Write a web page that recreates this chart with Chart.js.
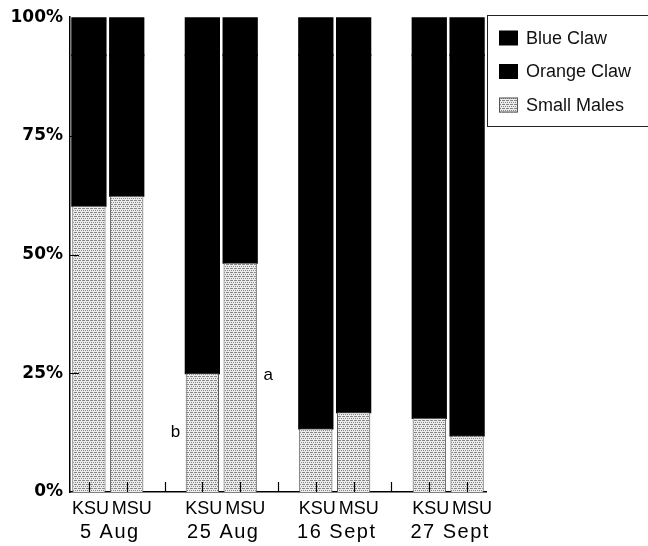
<!DOCTYPE html>
<html>
<head>
<meta charset="utf-8">
<script src="https://cdn.jsdelivr.net/npm/chart.js@4.4.1/dist/chart.umd.min.js"></script>
<style>
  html, body { margin: 0; padding: 0; background: #fff; }
  #wrap { width: 648px; height: 546px; }
</style>
</head>
<body>
<div id="wrap"><canvas id="chart" width="648" height="546"></canvas></div>
<script>
// Bar slots: one per site, with empty slots separating the sampling dates
const categories = ['KSU', 'MSU', '', 'KSU', 'MSU', '', 'KSU', 'MSU', '', 'KSU', 'MSU'];
const dateLabels = ['5 Aug', '25 Aug', '16 Sept', '27 Sept'];
const datePairs = [[0, 1], [3, 4], [6, 7], [9, 10]];

// Percent of males in each class
const smallMales = [60.3, 62.4, null, 25.0, 48.3, null, 13.4, 16.8, null, 15.6, 11.9];
const orangeClaw = [31.7, 29.6, null, 67.0, 43.7, null, 78.6, 75.2, null, 76.4, 80.1];
const blueClaw   = [8.0, 8.0, null, 8.0, 8.0, null, 8.0, 8.0, null, 8.0, 8.0];

const yTicks = [0, 25, 50, 75, 100];

// Significance letters beside the 25 Aug bars
const noteText  = ['b', 'a'];
const noteSlot  = [3, 4];
const noteValue = [12.5, 24.5];

function stipple() {
  const c = document.createElement('canvas');
  c.width = 4; c.height = 4;
  const g = c.getContext('2d');
  g.fillStyle = '#ececec';
  g.fillRect(0, 0, 4, 4);
  g.fillStyle = '#858585';
  [[0, 0], [2, 0], [1, 2], [3, 2], [3, 0]].forEach(([x, y]) => g.fillRect(x, y, 1, 1));
  return g.createPattern(c, 'repeat');
}
const dotted = stipple();

const FONT = '"Liberation Sans", Arial, sans-serif';

const extras = {
  id: 'extras',
  afterDraw(chart) {
    const ctx = chart.ctx;
    const x = chart.scales.x, y = chart.scales.y;
    const area = chart.chartArea;
    ctx.save();

    // inward tick marks on both axes
    ctx.strokeStyle = '#000';
    ctx.lineWidth = 1.2;
    ctx.beginPath();
    categories.forEach((_, i) => {
      const px = Math.round(x.getPixelForValue(i)) + 0.5;
      ctx.moveTo(px, area.bottom);
      ctx.lineTo(px, area.bottom - 10);
    });
    yTicks.forEach(v => {
      if (v === 0 || v === 100) return;
      const py = Math.round(y.getPixelForValue(v)) + 0.5;
      ctx.moveTo(area.left, py);
      ctx.lineTo(area.left + 9, py);
    });
    ctx.stroke();

    ctx.fillStyle = '#000';
    ctx.textAlign = 'center';
    ctx.textBaseline = 'middle';

    // site names under each bar
    ctx.font = '18px ' + FONT;
    categories.forEach((name, i) => {
      if (!name) return;
      const shift = name === 'KSU' ? 1.5 : 5;
      ctx.fillText(name, x.getPixelForValue(i) + shift, area.bottom + 17);
    });

    // sampling dates under each pair of bars
    ctx.font = '20px ' + FONT;
    ctx.letterSpacing = '1.5px';
    datePairs.forEach(([a, b], i) => {
      const cx = (x.getPixelForValue(a) + x.getPixelForValue(b)) / 2;
      ctx.fillText(dateLabels[i], cx + 2, area.bottom + 40);
    });
    ctx.letterSpacing = '0px';

    // significance letters
    ctx.font = '17px ' + FONT;
    noteText.forEach((t, i) => {
      const dx = noteSlot[i] === 3 ? -27 : 28;
      ctx.fillText(t, x.getPixelForValue(noteSlot[i]) + dx, y.getPixelForValue(noteValue[i]));
    });

    // legend with frame
    const lx = 487.5, ly = 15.5;
    ctx.strokeStyle = '#222';
    ctx.lineWidth = 1;
    ctx.strokeRect(lx, ly, 220, 111);
    const sets = chart.data.datasets.slice().reverse();
    ctx.font = '18px ' + FONT;
    ctx.textAlign = 'left';
    sets.forEach((ds, i) => {
      const cy = 38 + i * 33.5;
      ctx.fillStyle = ds.backgroundColor;
      ctx.fillRect(499, cy - 7.5, 19, 15);
      if (ds.borderWidth) {
        ctx.strokeStyle = ds.borderColor;
        ctx.strokeRect(499.5, cy - 7, 18, 14);
      }
      ctx.fillStyle = '#111';
      ctx.fillText(ds.label, 526, cy + 1);
    });
    ctx.restore();
  }
};

new Chart(document.getElementById('chart'), {
  type: 'bar',
  data: {
    labels: categories,
    datasets: [
      { label: 'Small Males', data: smallMales, backgroundColor: dotted, borderColor: '#555', borderWidth: 1 },
      { label: 'Orange Claw', data: orangeClaw, backgroundColor: '#000', borderWidth: 0, inflateAmount: 1 },
      { label: 'Blue Claw',   data: blueClaw,   backgroundColor: '#000', borderWidth: 0, inflateAmount: 1 }
    ]
  },
  options: {
    responsive: false,
    animation: false,
    layout: { padding: { left: 0, right: 162, top: 13, bottom: 0 } },
    datasets: { bar: { barPercentage: 0.88, categoryPercentage: 1.0 } },
    plugins: { legend: { display: false }, tooltip: { enabled: false } },
    scales: {
      x: {
        stacked: true,
        grid: { display: false, drawTicks: false },
        border: { display: true, color: '#000', width: 1.5 },
        ticks: { display: false },
        afterFit(s) { s.height = 54; }
      },
      y: {
        stacked: true, min: 0, max: 100,
        afterBuildTicks(s) { s.ticks = yTicks.map(v => ({ value: v })); },
        grid: { display: false, drawTicks: false },
        border: { display: true, color: '#000', width: 1.5 },
        ticks: {
          padding: 7, color: '#000',
          font: { family: '"DejaVu Sans", sans-serif', size: 17, weight: 'bold' },
          callback: v => v + '%'
        },
        afterFit(s) { s.width = 70; }
      }
    }
  },
  plugins: [extras]
});
</script>
</body>
</html>
